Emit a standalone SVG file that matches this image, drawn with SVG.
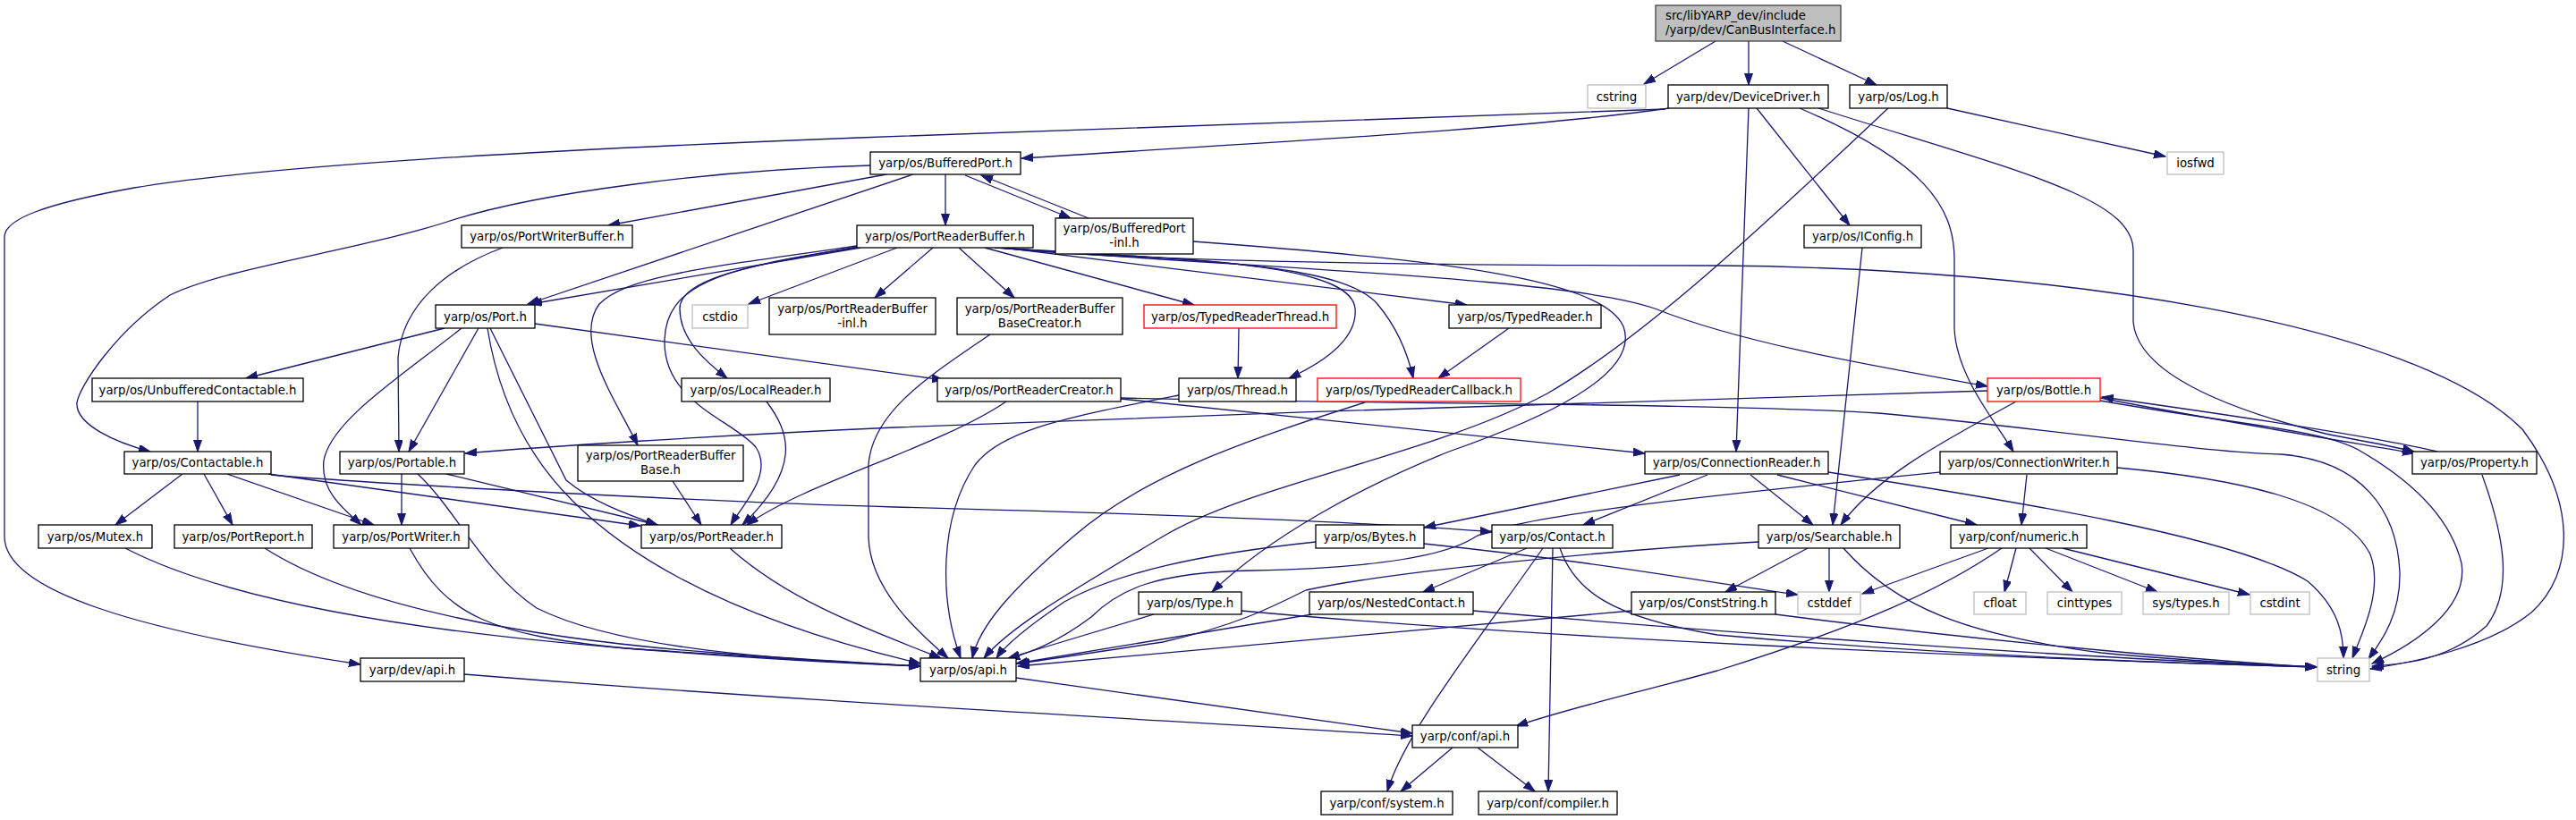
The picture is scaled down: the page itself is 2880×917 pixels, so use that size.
<svg xmlns="http://www.w3.org/2000/svg" width="2880" height="917" viewBox="0 0 2880 917">
<style>
.n rect{fill:#fff;stroke:#000;stroke-width:1.3}
.n.g rect{stroke:#bfbfbf}
.n.r rect{stroke:#ff0000}
.n.t rect{fill:#bfbfbf;stroke:#404040}
text{font-family:"DejaVu Sans","Liberation Sans",sans-serif;font-size:13.3px;text-anchor:middle;fill:#000}
.e path{fill:none;stroke:#191970;stroke-width:1.3;marker-end:url(#a)}
</style>
<defs>
<marker id="a" markerUnits="userSpaceOnUse" markerWidth="14" markerHeight="10" refX="13" refY="4.5" orient="auto">
<path d="M0,0 L13,4.5 L0,9 z" fill="#191970" stroke="#191970" stroke-width="1"/>
</marker>
</defs>
<rect width="2880" height="917" fill="#fff"/>
<g class="e" id="edges">
<path d="M1918,46 L1838,94"/>
<path d="M1955,46 L1955,95"/>
<path d="M1993,46 L2098,95"/>
<path d="M1866,121 C1700,145 1400,160 1142,177"/>
<path d="M1862,122 C1500,134 1200,146 960,154 C600,168 300,185 150,210 C50,228 5,245 5,265 L5,600 C5,660 150,705 403,743"/>
<path d="M973,185 C800,190 600,215 500,248 C400,280 250,300 190,330 C130,370 90,430 86,450 C84,475 130,495 168,505"/>
<path d="M991,195 L680,252"/>
<path d="M1021,195 L590,340"/>
<path d="M1057,195 L1057,252"/>
<path d="M1079,196 L1197,244"/>
<path d="M1217,244 L1097,196"/>
<path d="M1334,270 C1600,290 1790,310 1815,365 C1835,420 1720,470 1620,505 C1520,545 1420,600 1355,662"/>
<path d="M2177,121 L2421,175"/>
<path d="M2111,121 C2000,225 1850,370 1730,440 C1600,510 1400,540 1300,600 C1200,660 1130,700 1100,736"/>
<path d="M1955,121 L1941,505"/>
<path d="M1964,121 L2068,252"/>
<path d="M2012,121 C2150,180 2185,230 2185,290 L2185,367 C2187,420 2230,470 2251,505"/>
<path d="M2033,121 C2250,190 2385,220 2385,280 L2385,360 C2390,420 2500,460 2600,485 C2650,495 2680,500 2699,505"/>
<path d="M2082,277 L2049,587"/>
<path d="M962,277 L593,340"/>
<path d="M1003,277 L837,340"/>
<path d="M1043,277 L978,333"/>
<path d="M1072,277 L1134,333"/>
<path d="M1101,277 L1335,341"/>
<path d="M1122,277 L1640,341"/>
<path d="M1112,277 C1300,290 1510,290 1515,345 C1518,380 1480,405 1441,423"/>
<path d="M1115,277 C1350,292 1500,295 1540,340 C1565,370 1575,400 1580,423"/>
<path d="M1118,277 C1400,300 1750,310 1850,345 C1950,385 2100,410 2222,432"/>
<path d="M1119,277 C1250,292 1600,297 1920,297 C2300,300 2700,360 2820,480 C2880,560 2880,640 2830,685 C2780,725 2700,740 2650,748"/>
<path d="M958,276 C850,295 760,310 760,345 C760,380 790,405 813,423"/>
<path d="M958,275 C780,300 700,310 670,340 C640,380 690,450 713,498"/>
<path d="M958,277 C800,300 745,320 743,380 C741,450 820,470 845,500 C865,530 830,565 817,587"/>
<path d="M497,367 L275,423"/>
<path d="M535,367 L457,505"/>
<path d="M516,367 C450,420 370,470 362,515 C358,550 385,570 404,587"/>
<path d="M545,367 C555,430 580,500 640,560 C720,640 850,700 1029,742"/>
<path d="M548,367 L633,537 C660,560 700,575 735,587"/>
<path d="M598,362 L1055,425"/>
<path d="M562,277 C500,300 450,340 445,400 L446,505"/>
<path d="M221,449 L221,505"/>
<path d="M204,530 L129,587"/>
<path d="M228,530 L260,587"/>
<path d="M254,530 L418,587"/>
<path d="M300,530 L716,588"/>
<path d="M303,531 C400,540 800,562 1000,567 C1300,575 1550,585 1668,595"/>
<path d="M449,530 L449,587"/>
<path d="M499,530 L735,587"/>
<path d="M467,530 C510,570 540,640 600,680 C700,730 900,738 1029,745"/>
<path d="M752,538 L784,587"/>
<path d="M857,449 C880,480 900,520 830,587"/>
<path d="M1125,449 C1050,500 900,540 835,587"/>
<path d="M1253,446 L1839,507"/>
<path d="M1253,445 C1500,452 1900,450 2100,462 C2300,480 2450,505 2550,508 C2640,515 2680,570 2683,640 C2684,690 2660,720 2648,737"/>
<path d="M140,613 C250,670 450,705 700,725 C850,735 950,742 1029,745"/>
<path d="M296,613 C400,680 600,715 800,730 C900,738 980,742 1029,745"/>
<path d="M458,613 C500,690 550,710 700,725 C850,737 950,742 1029,745"/>
<path d="M816,613 C880,670 960,700 1052,736"/>
<path d="M1107,374 C1040,420 975,460 971,520 L971,600 C972,660 1030,710 1060,736"/>
<path d="M1318,442 C1200,465 1120,480 1090,520 C1050,580 1050,670 1074,736"/>
<path d="M1529,449 C1400,490 1280,530 1200,600 C1130,660 1095,700 1087,736"/>
<path d="M1687,367 L1608,423"/>
<path d="M1385,367 L1384,423"/>
<path d="M2222,437 C1900,445 1400,462 1000,478 C800,487 600,500 520,507"/>
<path d="M2254,449 C2180,490 2100,530 2058,587"/>
<path d="M2348,445 C2450,465 2600,490 2699,507"/>
<path d="M2725,505 C2640,485 2450,458 2350,444"/>
<path d="M2348,448 C2500,475 2600,480 2640,505 C2700,540 2740,580 2752,630 C2760,680 2700,720 2652,742"/>
<path d="M2775,531 C2800,600 2810,660 2780,700 C2740,735 2700,742 2652,745"/>
<path d="M1878,531 L1592,590"/>
<path d="M1909,531 L1770,587"/>
<path d="M1957,531 L2027,587"/>
<path d="M1987,531 L2210,587"/>
<path d="M2044,528 C2250,560 2500,600 2580,650 C2615,680 2620,710 2620,736"/>
<path d="M2266,531 L2260,587"/>
<path d="M2367,523 C2500,535 2620,560 2650,620 C2665,660 2640,710 2630,736"/>
<path d="M2169,528 C1950,550 1700,575 1650,600 C1620,620 1550,635 1400,638 C1290,640 1250,660 1220,690 C1180,720 1150,730 1127,737"/>
<path d="M1966,606 C1800,615 1550,640 1460,660 C1420,680 1380,700 1300,718 C1220,730 1170,738 1138,742"/>
<path d="M2021,613 L1929,662"/>
<path d="M2045,613 L2045,662"/>
<path d="M2061,613 C2120,680 2200,710 2349,730 C2450,740 2530,743 2590,746"/>
<path d="M2223,613 L2082,664"/>
<path d="M2254,613 L2241,662"/>
<path d="M2269,613 L2317,662"/>
<path d="M2287,613 L2412,662"/>
<path d="M2306,613 L2515,665"/>
<path d="M2238,613 C2170,660 2080,700 1920,750 C1830,775 1760,790 1695,812"/>
<path d="M1592,608 C1800,630 1900,650 2010,665"/>
<path d="M1471,606 C1340,620 1250,640 1190,673 C1150,700 1125,720 1114,736"/>
<path d="M1707,613 L1591,662"/>
<path d="M1725,613 C1650,720 1570,820 1551,885"/>
<path d="M1736,613 L1731,885"/>
<path d="M1744,613 C1760,660 1800,690 1920,710 C2200,735 2450,742 2590,746"/>
<path d="M1290,687 L1127,736"/>
<path d="M1388,683 C1700,712 2200,735 2590,746"/>
<path d="M1467,687 L1136,742"/>
<path d="M1647,683 C1900,705 2300,735 2590,746"/>
<path d="M1824,683 L1138,745"/>
<path d="M1985,687 C2200,715 2450,738 2590,746"/>
<path d="M1136,758 L1579,820"/>
<path d="M519,754 C900,785 1300,805 1579,823"/>
<path d="M1624,836 L1566,885"/>
<path d="M1652,836 L1716,885"/>
</g>
<g id="node1" class="n t"><rect x="1851" y="6" width="207" height="40"/><text x="1862" y="22" style="text-anchor:start">src/libYARP_dev/include</text><text x="1862" y="38" style="text-anchor:start">/yarp/dev/CanBusInterface.h</text></g>
<g id="node2" class="n g"><rect x="1775" y="95" width="65" height="26"/><text x="1807.5" y="112.5">cstring</text></g>
<g id="node3" class="n"><rect x="1865" y="95" width="179" height="26"/><text x="1954.5" y="112.5">yarp/dev/DeviceDriver.h</text></g>
<g id="node4" class="n"><rect x="2068" y="95" width="109" height="26"/><text x="2122.5" y="112.5">yarp/os/Log.h</text></g>
<g id="node5" class="n g"><rect x="2423" y="170" width="63" height="25"/><text x="2454.5" y="187">iosfwd</text></g>
<g id="node6" class="n"><rect x="973" y="170" width="168" height="25"/><text x="1057" y="187">yarp/os/BufferedPort.h</text></g>
<g id="node7" class="n"><rect x="516" y="252" width="191" height="25"/><text x="611.5" y="269">yarp/os/PortWriterBuffer.h</text></g>
<g id="node8" class="n"><rect x="958" y="252" width="197" height="25"/><text x="1056.5" y="269">yarp/os/PortReaderBuffer.h</text></g>
<g id="node9" class="n"><rect x="1180" y="244" width="154" height="40"/><text x="1257" y="260">yarp/os/BufferedPort</text><text x="1257" y="276">-inl.h</text></g>
<g id="node10" class="n"><rect x="2017" y="252" width="131" height="25"/><text x="2082.5" y="269">yarp/os/IConfig.h</text></g>
<g id="node11" class="n"><rect x="487" y="341" width="111" height="26"/><text x="542.5" y="358.5">yarp/os/Port.h</text></g>
<g id="node12" class="n g"><rect x="774" y="341" width="62" height="26"/><text x="805" y="358.5">cstdio</text></g>
<g id="node13" class="n"><rect x="860" y="333" width="186" height="41"/><text x="953" y="350">yarp/os/PortReaderBuffer</text><text x="953" y="366">-inl.h</text></g>
<g id="node14" class="n"><rect x="1070" y="333" width="185" height="41"/><text x="1162.5" y="350">yarp/os/PortReaderBuffer</text><text x="1162.5" y="366">BaseCreator.h</text></g>
<g id="node15" class="n r"><rect x="1279" y="341" width="215" height="26"/><text x="1386.5" y="358.5">yarp/os/TypedReaderThread.h</text></g>
<g id="node16" class="n"><rect x="1620" y="341" width="170" height="26"/><text x="1705" y="358.5">yarp/os/TypedReader.h</text></g>
<g id="node17" class="n"><rect x="103" y="423" width="236" height="26"/><text x="221" y="440.5">yarp/os/UnbufferedContactable.h</text></g>
<g id="node18" class="n"><rect x="762" y="423" width="166" height="26"/><text x="845" y="440.5">yarp/os/LocalReader.h</text></g>
<g id="node19" class="n"><rect x="1048" y="423" width="205" height="26"/><text x="1150.5" y="440.5">yarp/os/PortReaderCreator.h</text></g>
<g id="node20" class="n"><rect x="1318" y="423" width="131" height="26"/><text x="1383.5" y="440.5">yarp/os/Thread.h</text></g>
<g id="node21" class="n r"><rect x="1473" y="423" width="227" height="26"/><text x="1586.5" y="440.5">yarp/os/TypedReaderCallback.h</text></g>
<g id="node22" class="n r"><rect x="2222" y="423" width="126" height="26"/><text x="2285" y="440.5">yarp/os/Bottle.h</text></g>
<g id="node23" class="n"><rect x="139" y="505" width="164" height="25"/><text x="221" y="522">yarp/os/Contactable.h</text></g>
<g id="node24" class="n"><rect x="380" y="505" width="139" height="25"/><text x="449.5" y="522">yarp/os/Portable.h</text></g>
<g id="node25" class="n"><rect x="646" y="498" width="185" height="40"/><text x="738.5" y="514">yarp/os/PortReaderBuffer</text><text x="738.5" y="530">Base.h</text></g>
<g id="node26" class="n"><rect x="1839" y="505" width="205" height="25"/><text x="1941.5" y="522">yarp/os/ConnectionReader.h</text></g>
<g id="node27" class="n"><rect x="2169" y="505" width="198" height="25"/><text x="2268" y="522">yarp/os/ConnectionWriter.h</text></g>
<g id="node28" class="n"><rect x="2697" y="505" width="139" height="25"/><text x="2766.5" y="522">yarp/os/Property.h</text></g>
<g id="node29" class="n"><rect x="43" y="587" width="127" height="26"/><text x="106.5" y="604.5">yarp/os/Mutex.h</text></g>
<g id="node30" class="n"><rect x="195" y="587" width="154" height="26"/><text x="272" y="604.5">yarp/os/PortReport.h</text></g>
<g id="node31" class="n"><rect x="373" y="587" width="151" height="26"/><text x="448.5" y="604.5">yarp/os/PortWriter.h</text></g>
<g id="node32" class="n"><rect x="717" y="587" width="157" height="26"/><text x="795.5" y="604.5">yarp/os/PortReader.h</text></g>
<g id="node33" class="n"><rect x="1471" y="587" width="121" height="26"/><text x="1531.5" y="604.5">yarp/os/Bytes.h</text></g>
<g id="node34" class="n"><rect x="1668" y="587" width="135" height="26"/><text x="1735.5" y="604.5">yarp/os/Contact.h</text></g>
<g id="node35" class="n"><rect x="1966" y="587" width="158" height="26"/><text x="2045" y="604.5">yarp/os/Searchable.h</text></g>
<g id="node36" class="n"><rect x="2181" y="587" width="152" height="26"/><text x="2257" y="604.5">yarp/conf/numeric.h</text></g>
<g id="node37" class="n"><rect x="1273" y="662" width="115" height="25"/><text x="1330.5" y="679">yarp/os/Type.h</text></g>
<g id="node38" class="n"><rect x="1464" y="662" width="183" height="25"/><text x="1555.5" y="679">yarp/os/NestedContact.h</text></g>
<g id="node39" class="n"><rect x="1824" y="662" width="161" height="25"/><text x="1904.5" y="679">yarp/os/ConstString.h</text></g>
<g id="node40" class="n g"><rect x="2010" y="662" width="70" height="25"/><text x="2045" y="679">cstddef</text></g>
<g id="node41" class="n g"><rect x="2207" y="662" width="58" height="25"/><text x="2236" y="679">cfloat</text></g>
<g id="node42" class="n g"><rect x="2289" y="662" width="83" height="25"/><text x="2330.5" y="679">cinttypes</text></g>
<g id="node43" class="n g"><rect x="2396" y="662" width="96" height="25"/><text x="2444" y="679">sys/types.h</text></g>
<g id="node44" class="n g"><rect x="2516" y="662" width="66" height="25"/><text x="2549" y="679">cstdint</text></g>
<g id="node45" class="n"><rect x="403" y="736" width="116" height="26"/><text x="461" y="753.5">yarp/dev/api.h</text></g>
<g id="node46" class="n"><rect x="1029" y="736" width="107" height="26"/><text x="1082.5" y="753.5">yarp/os/api.h</text></g>
<g id="node47" class="n g"><rect x="2591" y="736" width="58" height="26"/><text x="2620" y="753.5">string</text></g>
<g id="node48" class="n"><rect x="1579" y="811" width="118" height="25"/><text x="1638" y="828">yarp/conf/api.h</text></g>
<g id="node49" class="n"><rect x="1477" y="885" width="147" height="26"/><text x="1550.5" y="902.5">yarp/conf/system.h</text></g>
<g id="node50" class="n"><rect x="1653" y="885" width="155" height="26"/><text x="1730.5" y="902.5">yarp/conf/compiler.h</text></g>
</svg>
